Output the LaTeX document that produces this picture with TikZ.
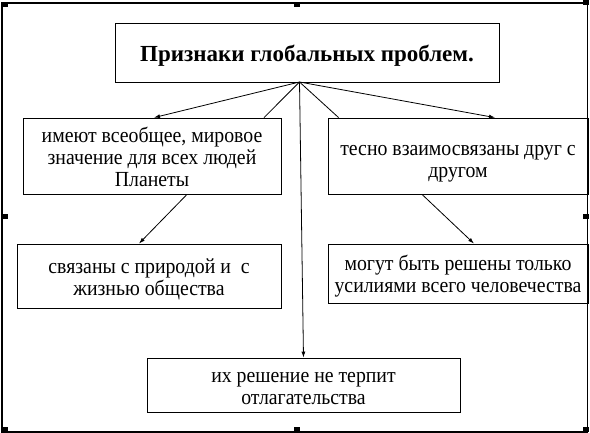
\documentclass[tikz,border=0pt]{standalone}
\usepackage{fontspec}
\setmainfont{Liberation Serif}
\newfontfamily\boxfont[FakeStretch=0.92]{Liberation Serif}
\newcommand{\boxtext}[2][20.5pt]{\rule{0pt}{#1}#2\rule[-3pt]{0pt}{3pt}}
\usetikzlibrary{arrows.meta}

\begin{document}
\begin{tikzpicture}[x=1pt, y=-1pt, line width=0.8pt,
    box/.style={draw, inner sep=0pt, align=center,
        font=\boxfont\fontsize{21.5}{22}\selectfont},
    headbox/.style={draw, inner sep=0pt, align=center,
        font=\fontsize{23}{27}\selectfont\bfseries, text height=21.5pt, text depth=2.5pt},
    >={Latex[length=6pt,width=4pt]}]
    \useasboundingbox (0,0) rectangle (590,433);

%frame
    \draw[line width=1.2pt] (2,3) rectangle (587.5,432);
    \foreach \hx/\hy in {4.5/4.5,296.5/5,585.5/3,4.5/217,585.5/216.5,4.5/429.5,296.5/429.5,585.5/429.5} {
        \fill[black] (\hx-3,\hy-2.5) rectangle (\hx+3,\hy+2.5);
    }

%boxes
    \node[headbox, minimum width=384pt, minimum height=59pt] (title) at (307,52.5)
        {Признаки глобальных проблем.};
    \node[box, minimum width=258pt, minimum height=76pt] (common) at (152,156)
        {\boxtext{имеют всеобщее, мировое\\значение для всех людей\\Планеты}};
    \node[box, minimum width=260pt, minimum height=76pt] (linked) at (458,156)
        {\boxtext[25pt]{тесно взаимосвязаны друг с\\другом}};
    \node[box, minimum width=264pt, minimum height=64pt] (nature) at (149,276)
        {\boxtext{связаны с природой и~ с\\жизнью общества}};
    \node[box, minimum width=260pt, minimum height=59pt] (mankind) at (458,273.5)
        {\boxtext{могут быть решены только\\усилиями всего человечества}};
    \node[box, minimum width=313pt, minimum height=54pt] (urgent) at (303.5,385)
        {\boxtext{их решение не терпит\\отлагательства}};

%connectors
    \coordinate (apex) at (299.5,82);
    \draw[->] (apex) -- ([xshift=2pt]common.north);
    \draw (apex) -- ([xshift=112pt]common.north);
    \draw[->] (apex) -- (urgent.north);
    \draw (apex) -- ([xshift=11pt]linked.north west);
    \draw[->] (apex) -- ([xshift=37pt]linked.north);
    \draw[->] ([xshift=35pt]common.south) -- ([xshift=-10pt]nature.north);
    \draw[->] ([xshift=-36pt]linked.south) -- ([xshift=16pt]mankind.north);

\end{tikzpicture}
\end{document}
